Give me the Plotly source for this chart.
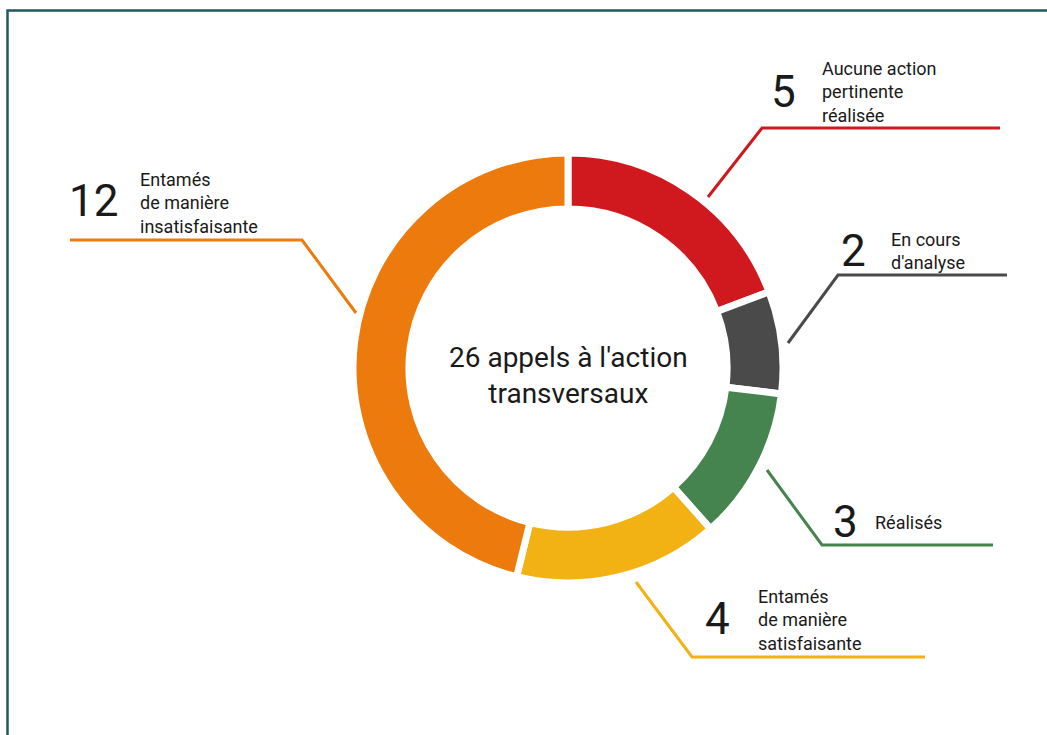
import plotly.graph_objects as go

# ------------------------------------------------------------------
# Daten
# ------------------------------------------------------------------
labels = [
    "Aucune action<br>pertinente<br>réalisée",
    "En cours<br>d'analyse",
    "Réalisés",
    "Entamés<br>de manière<br>satisfaisante",
    "Entamés<br>de manière<br>insatisfaisante",
]
values = [5, 2, 3, 4, 12]
colors = ["#D0181F", "#4A4A4A", "#45834F", "#F2B213", "#EC7A0C"]
center_text = "26 appels à l'action<br>transversaux"

W, H = 1047, 735
FONT = "Roboto"
TXT = "#1a1a1a"


def px(x, y):
    # Pixel -> Paper
    return x / W, 1 - y / H


# Layout der Beschriftungen (Pixel): Leader-Linie (Start, Knick, Ende), Zahl, Text
label_layout = [
    dict(line=[(708, 197), (762, 128), (1000, 128)], num=(783, 92), txt=(820, 92)),
    dict(line=[(788, 343), (838, 275), (1007, 275)], num=(853, 251), txt=(889, 251)),
    dict(line=[(767, 470), (822, 545), (993, 545)], num=(845, 522), txt=(873, 522)),
    dict(line=[(636, 582), (692, 657), (925, 657)], num=(717, 619), txt=(756, 620)),
    dict(line=[(356, 313), (302, 240), (70, 240)], num=(93, 201), txt=(138, 203)),
]

# ------------------------------------------------------------------
# Donut
# ------------------------------------------------------------------
cx, cy, r = 568, 368, 215
fig = go.Figure(
    go.Pie(
        labels=labels,
        values=values,
        hole=0.74,
        sort=False,
        direction="clockwise",
        rotation=0,
        marker=dict(colors=colors, line=dict(color="white", width=7)),
        textinfo="none",
        hoverinfo="label+value",
        showlegend=False,
        domain=dict(x=[(cx - r) / W, (cx + r) / W], y=[1 - (cy + r) / H, 1 - (cy - r) / H]),
    )
)

shapes = []
annotations = []
for lab, val, col, lay in zip(labels, values, colors, label_layout):
    pts = [px(*p) for p in lay["line"]]
    path = "M " + " L ".join(f"{x},{y}" for x, y in pts)
    shapes.append(dict(type="path", path=path, xref="paper", yref="paper",
                       line=dict(color=col, width=3)))
    nx, ny = px(*lay["num"])
    annotations.append(dict(text=str(val), x=nx, y=ny, xref="paper", yref="paper",
                            xanchor="center", yanchor="middle", showarrow=False,
                            font=dict(family=FONT, size=44, color=TXT)))
    tx, ty = px(*lay["txt"])
    annotations.append(dict(text=lab, x=tx, y=ty, xref="paper", yref="paper",
                            xanchor="left", yanchor="middle", align="left",
                            showarrow=False,
                            font=dict(family=FONT, size=18, color=TXT)))

# Mitte
mx, my = px(cx, 375)
annotations.append(dict(text=center_text, x=mx, y=my, xref="paper", yref="paper",
                        xanchor="center", yanchor="middle", showarrow=False,
                        font=dict(family=FONT, size=28, color=TXT)))

# Rahmen oben/links
fx0, fy0 = px(7.5, H)
fx1, fy1 = px(7.5, 10.5)
fx2, fy2 = px(W, 10.5)
shapes.append(dict(type="path", path=f"M {fx0},{fy0} L {fx1},{fy1} L {fx2},{fy2}",
                   xref="paper", yref="paper", line=dict(color="#1E5962", width=2.5)))

fig.update_layout(
    width=W,
    height=H,
    margin=dict(l=0, r=0, t=0, b=0),
    paper_bgcolor="white",
    plot_bgcolor="white",
    shapes=shapes,
    annotations=annotations,
)

# Body-Rand des HTML entfernen, damit die Grafik bei (0,0) beginnt
fig.write_html(
    "out.html",
    config={"displayModeBar": False},
    post_script="document.body.style.margin='0';document.body.style.overflow='hidden';",
)
